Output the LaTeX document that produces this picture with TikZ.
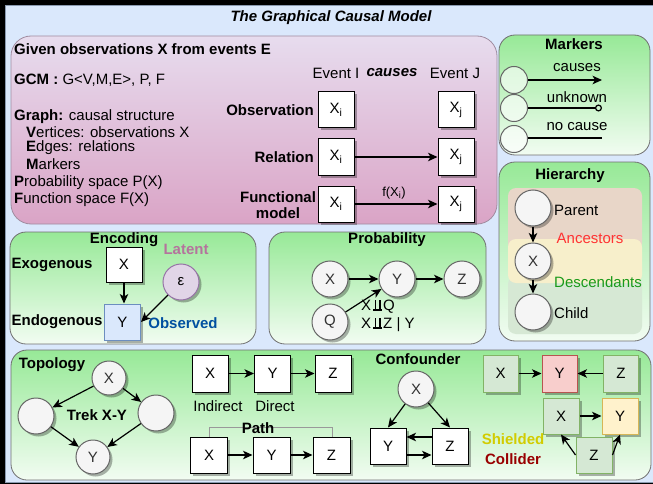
\documentclass[tikz,border=0pt]{standalone}
\usepackage{fontspec}
\setmainfont{Liberation Sans}
\usetikzlibrary{shadows,arrows.meta}
\definecolor{bgblue}{HTML}{DAE8FC}
\definecolor{bgline}{HTML}{8A9AB0}
\definecolor{gtop}{HTML}{97E997}
\definecolor{gbot}{HTML}{F2FCF2}
\definecolor{ptop}{HTML}{E7DCEE}
\definecolor{pbot}{HTML}{DAA4C6}
\definecolor{pinkborder}{HTML}{A08CA0}
\definecolor{panelborder}{HTML}{707070}
\definecolor{circborder}{HTML}{666666}
\definecolor{circfill}{HTML}{F5F5F5}
\definecolor{darktext}{HTML}{333333}
\definecolor{ancfill}{HTML}{E8D6C8}
\definecolor{yelfill}{HTML}{F7EFCB}
\definecolor{desfill}{HTML}{D6E8D4}
\definecolor{ancred}{HTML}{FF3333}
\definecolor{desgreen}{HTML}{1A9A1A}
\definecolor{latentc}{HTML}{B5739D}
\definecolor{obsblue}{HTML}{0050A0}
\definecolor{epsfill}{HTML}{E1D5E7}
\definecolor{epsdraw}{HTML}{9673A6}
\definecolor{bluefill}{HTML}{DAE8FC}
\definecolor{bluedraw}{HTML}{6C8EBF}
\definecolor{grfill}{HTML}{D5E8D4}
\definecolor{grdraw}{HTML}{82B366}
\definecolor{rdfill}{HTML}{F8CECC}
\definecolor{rddraw}{HTML}{B85450}
\definecolor{ylfill}{HTML}{FFF2CC}
\definecolor{yldraw}{HTML}{D6B656}
\definecolor{shieldc}{HTML}{D2CC00}
\definecolor{colliderc}{HTML}{990000}
\newcommand\myindep{\hspace{2pt}\mbox{\rlap{\rule{9pt}{1.6pt}}\hspace{1.5pt}\rule{1.5pt}{10.5pt}\hspace{3pt}\rule{1.5pt}{10.5pt}\hspace{1.5pt}}\hspace{1pt}}
\begin{document}
\begin{tikzpicture}[x=1pt,y=-1pt,
  every node/.style={font=\fontsize{15}{17}\selectfont, inner sep=0pt},
  bld/.style={font=\fontsize{15}{17}\selectfont\bfseries},
  panel/.style={draw=panelborder, rounded corners=16pt, line width=0.8pt},
  greenpanel/.style={panel, top color=gtop, bottom color=gbot},
  pinkpanel/.style={panel, draw=pinkborder, top color=ptop, bottom color=pbot, rounded corners=20pt},
  shad/.style={drop shadow={shadow xshift=2.5pt, shadow yshift=-2.5pt, opacity=0.3, fill=black}},
  boxnode/.style={draw=black, fill=white, line width=1pt, minimum width=36pt, minimum height=36pt, shad},
  grbox/.style={boxnode, draw=grdraw, fill=grfill},
  rdbox/.style={boxnode, draw=rddraw, fill=rdfill},
  ylbox/.style={boxnode, draw=yldraw, fill=ylfill},
  circ/.style={circle, draw=circborder, fill=circfill, line width=1pt, minimum size=36pt, text=darktext, shad},
  mcirc/.style={circle, draw=circborder, fill=white, fill opacity=0.6, text opacity=1, line width=1pt, minimum size=27pt},
  arr/.style={-{Stealth[length=9.5pt,width=8.5pt,inset=2.5pt]}, line width=1.2pt},
  ln/.style={line width=1.2pt},
  hrect/.style={rounded corners=8pt, minimum width=134pt},
]
\useasboundingbox (0,0) rectangle (653,484);
\fill[black] (0,0) rectangle (653,484);
\draw[draw=bgline, fill=bgblue, line width=0.8pt] (5.5,5.5) rectangle (660,482);
\node[font=\fontsize{15}{17}\selectfont\bfseries\itshape] (title) at (331,18) {The Graphical Causal Model};

% ---------- GCM panel ----------
\node[pinkpanel, minimum width=486pt, minimum height=188pt] (gcm) at (254,130) {};
\node[bld, anchor=west] (g1) at (14,49) {Given observations X from events E};
\node[anchor=west] (g2) at (14,80) {\textbf{GCM :} G<V,M,E>, P, F};
\node[anchor=west] (g3) at (14,117) {\textbf{Graph:} causal structure};
\node[anchor=west] (g4) at (26,132) {\textbf{V}ertices: observations X};
\node[anchor=west] (g5) at (26,148) {\textbf{E}dges: relations};
\node[anchor=west] (g6) at (26,164) {\textbf{M}arkers};
\node[anchor=west] (g7) at (14,183) {\textbf{P}robability space P(X)};
\node[anchor=west] (g8) at (14,200) {\textbf{F}unction space F(X)};

\node (evI) at (336,73) {Event I};
\node[font=\fontsize{15}{17}\selectfont\bfseries\itshape] (cs) at (392,73) {causes};
\node (evJ) at (455,73) {Event J};

\node[boxnode] (xi1) at (336,110) {X\textsubscript{i}};
\node[boxnode] (xi2) at (336,157) {X\textsubscript{i}};
\node[boxnode] (xi3) at (336,204) {X\textsubscript{i}};
\node[boxnode] (xj1) at (456,110) {X\textsubscript{j}};
\node[boxnode] (xj2) at (456,157) {X\textsubscript{j}};
\node[boxnode] (xj3) at (456,204) {X\textsubscript{j}};
\node[bld, anchor=east] (lobs) at (314,110) {Observation};
\node[bld, anchor=east] (lrel) at (314,157) {Relation};
\node[bld, align=center, font=\fontsize{15}{16}\selectfont\bfseries] (lfun) at (278,205) {Functional\\model};
\draw[arr] (xi2) -- (xj2);
\draw[arr] (xi3) -- (xj3);
\node[font=\fontsize{13}{15}\selectfont] (fx) at (394,193) {f(X\textsubscript{i})};

% ---------- Markers ----------
\node[greenpanel, minimum width=151pt, minimum height=120pt] (mk) at (574.5,95) {};
\node[bld] (mkt) at (574,44) {Markers};
\node[mcirc] (mc1) at (514,80) {};
\node[mcirc] (mc2) at (514,108) {};
\node[mcirc] (mc3) at (514,139) {};
\coordinate (me1) at (602,80);
\coordinate (me2) at (602,108);
\coordinate (me3) at (602,138);
\draw[arr] (mc1) -- (me1);
\draw[ln, -{Circle[open, length=7pt, width=7pt, line width=1.2pt]}] (mc2) -- (me2);
\draw[ln] (mc3.east |- me3) -- (me3);
\node (mt1) at (577,68) {causes};
\node (mt2) at (577,97) {unknown};
\node (mt3) at (577,127) {no cause};

% ---------- Hierarchy ----------
\node[greenpanel, minimum width=151pt, minimum height=179pt] (hi) at (574.5,251.5) {};
\node[bld] (hit) at (570,176) {Hierarchy};
\node[hrect, fill=ancfill, minimum height=64pt] (anc) at (575,220) {};
\node[hrect, fill=desfill, minimum height=58pt] (des) at (575,305) {};
\node[hrect, fill=yelfill, minimum height=44pt] (yel) at (575,261) {};
\node[circ] (hp) at (533,208) {};
\node[circ] (hx) at (533,261) {X};
\node[circ] (hc) at (533,312) {};
\draw[arr] (hp) -- (hx);
\draw[arr] (hx) -- (hc);
\node[anchor=west] (hpt) at (554,210) {Parent};
\node[text=ancred] (hat) at (590,238) {Ancestors};
\node[text=desgreen] (hdt) at (598,282) {Descendants};
\node[anchor=west] (hct) at (554,313) {Child};

% ---------- Encoding ----------
\node[greenpanel, minimum width=246pt, minimum height=112pt] (enc) at (133,288) {};
\node[bld] (enct) at (124,240) {Encoding};
\node[bld, text=latentc] (lat) at (186,249) {Latent};
\node[boxnode, minimum height=35pt] (ex) at (124,264.5) {X};
\node[bld] (exo) at (52,265) {Exogenous};
\node[circ, fill=epsfill, draw=epsdraw, text=black] (eps) at (181,282) {ε};
\node[boxnode, fill=bluefill, draw=bluedraw] (ey) at (122.5,322) {Y};
\node[bld] (endo) at (57,322) {Endogenous};
\node[bld, text=obsblue] (obs) at (183,323) {Observed};
\draw[arr] (ex.south) -- (ex.south |- ey.north);
\draw[arr] (eps) -- (ey.east);

% ---------- Probability ----------
\node[greenpanel, minimum width=217pt, minimum height=112pt] (pr) at (377.5,288) {};
\node[bld] (prt) at (387,240) {Probability};
\node[circ] (px) at (330,279) {X};
\node[circ] (py) at (397,279) {Y};
\node[circ] (pz) at (462,279) {Z};
\node[circ] (pq) at (330,322) {Q};
\draw[arr] (px) -- (py);
\draw[arr] (py) -- (pz);
\draw[arr] (pq) -- (py);
\node[anchor=west] (pi1) at (361,307) {X\myindep Q};
\node[anchor=west] (pi2) at (361,325) {X\myindep Z | Y};

% ---------- Bottom panel ----------
\node[greenpanel, minimum width=640pt, minimum height=130pt] (bt) at (331,415) {};
\node[bld] (topt) at (52,365) {Topology};
\node[circ, minimum size=34pt] (tx) at (109,378) {X};
\node[circ] (tl) at (36,416) {};
\node[circ] (tr) at (156,413) {};
\node[circ, minimum size=34pt] (ty) at (93,457) {Y};
\node[bld] (trek) at (97,415) {Trek X-Y};
\draw[arr] (tx) -- (tl);
\draw[arr] (tx) -- (tr);
\draw[arr] (tl) -- (ty);
\draw[arr] (tr) -- (ty);

\node[boxnode, minimum height=37pt] (cx1) at (210,373.5) {X};
\node[boxnode, minimum height=37pt] (cy1) at (272.5,373.5) {Y};
\node[boxnode, minimum height=37pt] (cz1) at (333,373.5) {Z};
\draw[arr] (cx1) -- (cy1);
\draw[arr] (cy1) -- (cz1);
\node (ind) at (218,406) {Indirect};
\node (dir) at (275,406) {Direct};
\coordinate (pa1) at (209,437);
\coordinate (pa2) at (332,437);
\draw[draw=gray!80, line width=0.8pt] (pa1) -- ++(0,-10) -| (pa2);
\node[bld] (patht) at (258,428) {Path};
\node[boxnode, minimum width=37pt] (cx2) at (209,455) {X};
\node[boxnode, minimum width=37pt] (cy2) at (271.5,455) {Y};
\node[boxnode, minimum width=37pt] (cz2) at (331.5,455) {Z};
\draw[arr] (cx2) -- (cy2);
\draw[arr] (cy2) -- (cz2);

\node[bld] (cft) at (418,359) {Confounder};
\node[circ] (fx0) at (416,389) {X};
\node[boxnode] (fy) at (388,446) {Y};
\node[boxnode] (fz) at (450,446) {Z};
\draw[arr] (fx0) -- (fy.north);
\draw[arr] (fx0) -- (fz.north);
\draw[arr] ([yshift=9pt]fz.west) -- ([yshift=9pt]fy.east);
\draw[arr] ([yshift=-9pt]fy.east) -- ([yshift=-9pt]fz.west);

\node[grbox, minimum width=35pt, minimum height=37pt] (kx) at (500.5,373.5) {X};
\node[rdbox, minimum width=35pt, minimum height=37pt] (ky) at (559.5,373.5) {Y};
\node[grbox, minimum width=35pt, minimum height=37pt] (kz) at (621,373.5) {Z};
\draw[arr] (kx) -- (ky);
\draw[arr] (kz) -- (ky);
\node[grbox] (sx) at (561,416) {X};
\node[ylbox] (sy) at (620,416) {Y};
\node[grbox] (sz) at (594,455) {Z};
\draw[arr] (sx) -- (sy);
\draw[arr] (sz.west) -- (sx.south);
\draw[arr] (sz.east) -- (sy.south);
\node[bld, text=shieldc] (shl) at (513,439) {Shielded};
\node[bld, text=colliderc] (col) at (513,459) {Collider};
\end{tikzpicture}
\end{document}
